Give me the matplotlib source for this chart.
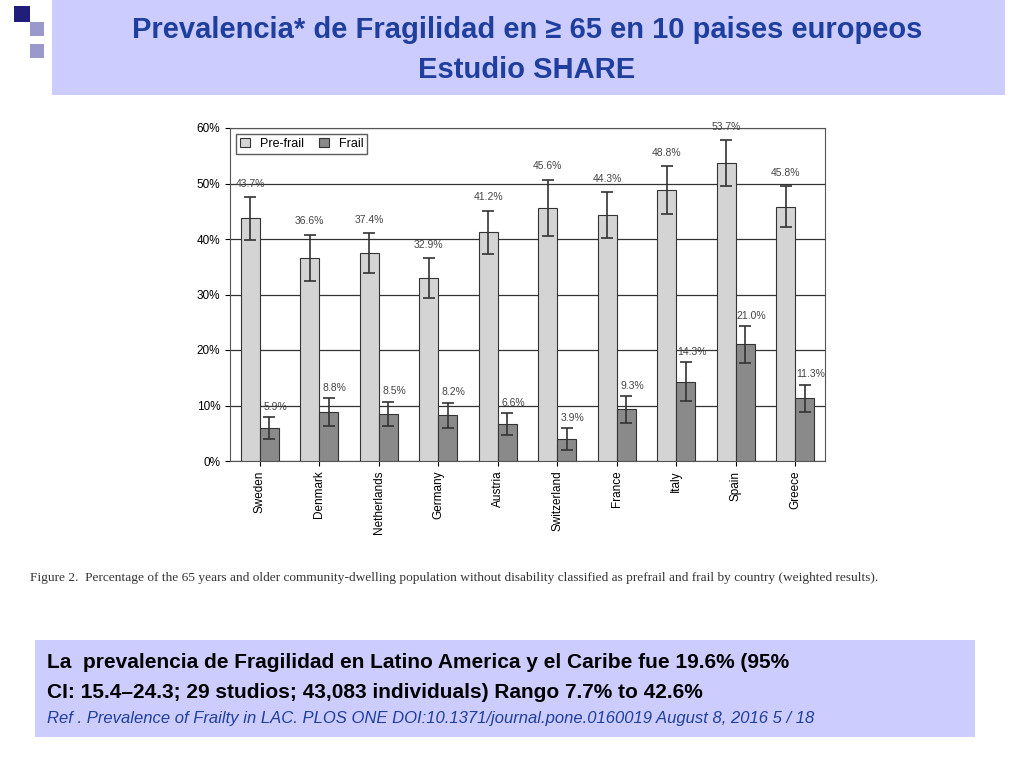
import numpy as np
import matplotlib.pyplot as plt
from matplotlib.patches import Rectangle

plt.rcParams['font.family'] = 'Liberation Sans'

countries = ['Sweden', 'Denmark', 'Netherlands', 'Germany', 'Austria',
             'Switzerland', 'France', 'Italy', 'Spain', 'Greece']
prefrail = [43.7, 36.6, 37.4, 32.9, 41.2, 45.6, 44.3, 48.8, 53.7, 45.8]
frail = [5.9, 8.8, 8.5, 8.2, 6.6, 3.9, 9.3, 14.3, 21.0, 11.3]
prefrail_err = [3.8, 4.2, 3.6, 3.6, 3.9, 5.1, 4.1, 4.3, 4.1, 3.7]
frail_err = [2.0, 2.5, 2.2, 2.3, 2.0, 2.0, 2.4, 3.5, 3.3, 2.4]
yticks = [0, 10, 20, 30, 40, 50, 60]

W, H = 1024, 768
fig = plt.figure(figsize=(W / 100, H / 100), dpi=100)
fig.patch.set_facecolor('white')

def box(x0, y0, x1, y1, color):
    fig.patches.append(Rectangle((x0 / W, 1 - y1 / H), (x1 - x0) / W, (y1 - y0) / H,
                                 transform=fig.transFigure, facecolor=color,
                                 edgecolor='none', zorder=0))

# title box + corner squares
box(52, 0, 1005, 95, '#ccccff')
box(14, 6, 30, 22, '#1f1f7a')
box(30, 22, 44, 36, '#9999cc')
box(30, 44, 44, 58, '#9999cc')
fig.text(527 / W, 1 - 30 / H, 'Prevalencia* de Fragilidad en ≥ 65 en 10 paises europeos',
         ha='center', va='center', fontsize=21, fontweight='bold', color='#1f3f9f')
fig.text(527 / W, 1 - 70 / H, 'Estudio SHARE', ha='center', va='center',
         fontsize=21, fontweight='bold', color='#1f3f9f')

# chart
ax = fig.add_axes([230 / W, 1 - 461 / H, (825 - 230) / W, (461 - 128) / H])
x = np.arange(len(countries))
w = 0.32
ekw = dict(ecolor='#333333', elinewidth=1.2, capsize=4, capthick=1.2)
ax.bar(x - w / 2, prefrail, w, yerr=prefrail_err, color='#d4d4d4', edgecolor='#333333',
       linewidth=0.8, label='Pre-frail', error_kw=ekw, zorder=3)
ax.bar(x + w / 2, frail, w, yerr=frail_err, color='#8a8a8a', edgecolor='#333333',
       linewidth=0.8, label='Frail', error_kw=ekw, zorder=3)
for i in range(len(countries)):
    ax.text(x[i] - w / 2, prefrail[i] + prefrail_err[i] + 1.5, f'{prefrail[i]:.1f}%',
            ha='center', va='bottom', fontsize=7.5, color='#444444')
    ax.text(x[i] + w / 2 + 0.1, frail[i] + frail_err[i] + 1.0, f'{frail[i]:.1f}%',
            ha='center', va='bottom', fontsize=7.5, color='#444444')
ax.set_xlim(-0.5, len(countries) - 0.5)
ax.set_ylim(0, 60)
ax.set_yticks(yticks)
ax.set_yticklabels([f'{t}%' for t in yticks], fontsize=8.5)
ax.set_xticks(x)
ax.set_xticklabels(countries, rotation=90, fontsize=8.5)
ax.yaxis.grid(True, color='#333333', linewidth=0.9, zorder=0)
ax.set_axisbelow(True)
for s in ax.spines.values():
    s.set_color('#555555')
ax.legend(loc='upper left', ncol=2, fontsize=9, frameon=True, fancybox=False,
          edgecolor='#333333', handlelength=0.8, borderpad=0.3, columnspacing=1.2)

fig.text(30 / W, 1 - 578 / H,
         'Figure 2.  Percentage of the 65 years and older community-dwelling population without disability classified as prefrail and frail by country (weighted results).',
         ha='left', va='center', fontsize=9.6, family='Liberation Serif', color='#333333')

# bottom box
box(35, 640, 975, 737, '#ccccff')
fig.text(47 / W, 1 - 663 / H, 'La  prevalencia de Fragilidad en Latino America y el Caribe fue 19.6% (95%',
         ha='left', va='center', fontsize=15, fontweight='bold', color='black')
fig.text(47 / W, 1 - 692 / H, 'CI: 15.4–24.3; 29 studios; 43,083 individuals) Rango 7.7% to 42.6%',
         ha='left', va='center', fontsize=15, fontweight='bold', color='black')
fig.text(47 / W, 1 - 718 / H, 'Ref . Prevalence of Frailty in LAC. PLOS ONE DOI:10.1371/journal.pone.0160019 August 8, 2016 5 / 18',
         ha='left', va='center', fontsize=12, style='italic', color='#1f3f9f')

fig.savefig('out.png', dpi=100)
